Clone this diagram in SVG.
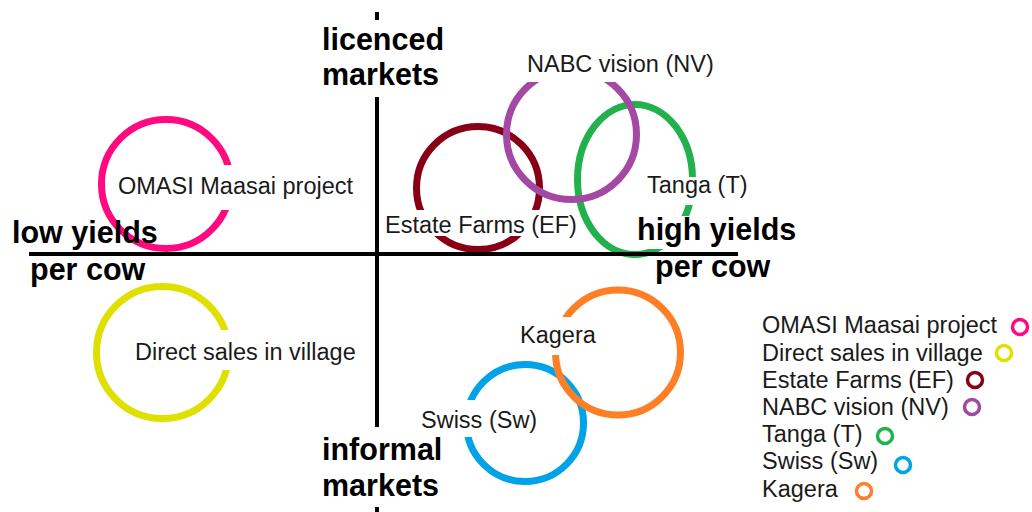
<svg xmlns="http://www.w3.org/2000/svg" width="1032" height="512" viewBox="0 0 1032 512">
  <style>
    .ring { fill: none; stroke-width: 7; }
    .lring { fill: none; stroke-width: 3.5; }
    .box { fill: #ffffff; stroke: none; }
    .lbl { font-family: "Liberation Sans", Arial, sans-serif; font-size: 23.5px; fill: #1a1a1a; }
    .axl { font-family: "Liberation Sans", Arial, sans-serif; font-size: 30.5px; font-weight: bold; fill: #000000; }
    .axis { stroke: #000000; stroke-width: 4; fill: none; }
  </style>
  <rect x="0" y="0" width="1032" height="512" fill="#ffffff"/>

  <g id="omasi">
    <circle class="ring" cx="166" cy="184" r="64.5" stroke="#ff0a80"/>
    <rect class="box" x="110" y="165" width="252" height="45"/>
    <text class="lbl" x="118" y="194">OMASI Maasai project</text>
  </g>

  <g id="direct-sales">
    <circle class="ring" cx="162.5" cy="352.5" r="66" stroke="#dfe000"/>
    <rect class="box" x="128" y="330" width="234" height="40"/>
    <text class="lbl" x="135" y="360">Direct sales in village</text>
  </g>

  <g id="estate-farms">
    <circle class="ring" cx="478" cy="188" r="61.5" stroke="#880015"/>
    <rect class="box" x="381" y="210" width="194" height="26"/>
    <text class="lbl" x="385" y="233">Estate Farms (EF)</text>
  </g>

  <g id="tanga">
    <ellipse class="ring" cx="635" cy="179.5" rx="57.5" ry="75" stroke="#22b14c"/>
    <rect class="box" x="640" y="177" width="112" height="28"/>
    <text class="lbl" x="647" y="193">Tanga (T)</text>
  </g>

  <g id="nabc-vision">
    <circle class="ring" cx="571.5" cy="134.5" r="65" stroke="#a349a4"/>
    <rect class="box" x="520" y="50" width="200" height="32"/>
    <text class="lbl" x="527" y="72">NABC vision (NV)</text>
  </g>

  <g id="swiss">
    <circle class="ring" cx="525" cy="423" r="58.5" stroke="#00a2e8"/>
    <rect class="box" x="415" y="400" width="127" height="37"/>
    <text class="lbl" x="421" y="428">Swiss (Sw)</text>
  </g>

  <g id="kagera">
    <circle class="ring" cx="618" cy="352.5" r="62.5" stroke="#ff7f27"/>
    <rect class="box" x="515" y="317" width="85" height="38"/>
    <text class="lbl" x="520" y="343">Kagera</text>
  </g>

  <g id="connectors">
    <line class="axis" x1="377" y1="12" x2="377" y2="20"/>
    <line class="axis" x1="377" y1="97" x2="377" y2="427"/>
    <line class="axis" x1="377" y1="507" x2="377" y2="512"/>
    <line class="axis" x1="29" y1="254" x2="738" y2="254"/>
  </g>

  <g id="axis-labels">
    <text class="axl" x="322" y="50">licenced</text>
    <text class="axl" x="322" y="85">markets</text>
    <text class="axl" x="322" y="460">informal</text>
    <text class="axl" x="322" y="496">markets</text>
    <text class="axl" x="12" y="243">low yields</text>
    <text class="axl" x="30" y="280">per cow</text>
    <rect class="box" x="633" y="216" width="167" height="33"/>
    <text class="axl" x="637" y="240">high yields</text>
    <text class="axl" x="655" y="277">per cow</text>
  </g>

  <g id="legend">
    <text class="lbl" x="762" y="333">OMASI Maasai project</text>
    <circle class="lring" cx="1020" cy="327" r="7.5" stroke="#ff0a80"/>
    <text class="lbl" x="762" y="361">Direct sales in village</text>
    <circle class="lring" cx="1004" cy="353" r="7.5" stroke="#dfe000"/>
    <text class="lbl" x="762" y="388">Estate Farms (EF)</text>
    <circle class="lring" cx="975" cy="380" r="7.5" stroke="#880015"/>
    <text class="lbl" x="762" y="415">NABC vision (NV)</text>
    <circle class="lring" cx="972" cy="407" r="7.5" stroke="#a349a4"/>
    <text class="lbl" x="762" y="442">Tanga (T)</text>
    <circle class="lring" cx="885" cy="436" r="7.5" stroke="#22b14c"/>
    <text class="lbl" x="762" y="469">Swiss (Sw)</text>
    <circle class="lring" cx="903" cy="465" r="7.5" stroke="#00a2e8"/>
    <text class="lbl" x="762" y="497">Kagera</text>
    <circle class="lring" cx="864" cy="491" r="7.5" stroke="#ff7f27"/>
  </g>
</svg>
